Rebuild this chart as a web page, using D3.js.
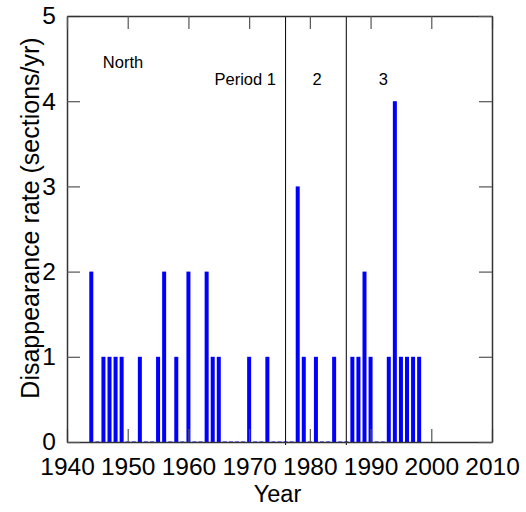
<!DOCTYPE html>
<html>
<head>
<meta charset="utf-8">
<script src="https://cdn.jsdelivr.net/npm/d3@7"></script>
<style>
  html, body { margin: 0; padding: 0; background: #fff; }
  text { font-family: "Liberation Sans", Arial, sans-serif; fill: #000; }
</style>
</head>
<body>
<svg id="chart" width="526" height="512"></svg>
<script>
// Yearly disappearance rate, North region
const years = d3.range(1944, 1999);
const nonZeroYears = [1944, 1946, 1947, 1948, 1949, 1952, 1955, 1956, 1958, 1960, 1963, 1964, 1965,
                      1970, 1973, 1978, 1979, 1981, 1984, 1987, 1988, 1989, 1990, 1993, 1994, 1995,
                      1996, 1997, 1998];
const nonZeroRates = [2, 1, 1, 1, 1, 1, 1, 2, 1, 2, 2, 1, 1,
                      1, 1, 3, 1, 1, 1, 1, 1, 2, 1, 1, 4, 1,
                      1, 1, 1];
const periodBreaks = [1976, 1986];
const xTicks = [1940, 1950, 1960, 1970, 1980, 1990, 2000, 2010];
const yTicks = [0, 1, 2, 3, 4, 5];
const annotations = [
  { text: "North", year: 1945.9, rate: 4.385, anchor: "start" },
  { text: "Period 1", year: 1964.3, rate: 4.19, anchor: "start" },
  { text: "2", year: 1981.2, rate: 4.19, anchor: "middle" },
  { text: "3", year: 1992.1, rate: 4.19, anchor: "middle" }
];

const rateByYear = new Map(nonZeroYears.map((y, i) => [y, nonZeroRates[i]]));
const series = years.map(y => ({ year: y, rate: rateByYear.get(y) || 0 }));

const svg = d3.select("#chart");
const margin = { left: 67, right: 34, top: 16, bottom: 70 };
const W = 526, H = 512;
const x = d3.scaleLinear().domain([1940, 2010]).range([margin.left, W - margin.right]);
const y = d3.scaleLinear().domain([0, 5]).range([H - margin.bottom, margin.top]);
const barW = 4;

// bars (zero years drawn as a faint baseline stub)
svg.append("g").selectAll("rect").data(series).join("rect")
  .attr("x", d => x(d.year) - barW / 2)
  .attr("width", barW)
  .attr("y", d => d.rate > 0 ? y(d.rate) : y(0) - 1)
  .attr("height", d => d.rate > 0 ? y(0) - y(d.rate) : 1)
  .attr("fill", d => d.rate > 0 ? "#0000ff" : "#7f7fff");

// period separators
svg.append("g").selectAll("line").data(periodBreaks).join("line")
  .attr("x1", d => x(d)).attr("x2", d => x(d))
  .attr("y1", y(5)).attr("y2", y(0) + 3)
  .attr("stroke", "#000").attr("stroke-width", 1);

// axes with inward ticks on all four sides
const tickLen = 13;
const axisB = d3.axisBottom(x).tickValues(xTicks).tickFormat(d3.format("d")).tickSizeInner(-tickLen).tickSizeOuter(0).tickPadding(16);
const axisL = d3.axisLeft(y).tickValues(yTicks).tickFormat(d3.format("d")).tickSizeInner(-tickLen).tickSizeOuter(0).tickPadding(11);
const axisT = d3.axisTop(x).tickValues(xTicks).tickFormat("").tickSizeInner(-tickLen).tickSizeOuter(0);
const axisR = d3.axisRight(y).tickValues(yTicks).tickFormat("").tickSizeInner(-tickLen).tickSizeOuter(0);

function style(g) {
  g.select(".domain").attr("stroke", "#333").attr("stroke-width", 1.5);
  g.selectAll(".tick line").attr("stroke", "#555").attr("stroke-width", 1.2);
  g.selectAll(".tick text").attr("font-size", 24.5).attr("font-family", "Liberation Sans, Arial, sans-serif").attr("fill", "#000");
}
svg.append("g").attr("transform", `translate(0,${y(0)})`).call(axisB).call(style);
svg.append("g").attr("transform", `translate(${x(1940)},0)`).call(axisL).call(style);
svg.append("g").attr("transform", `translate(0,${y(5)})`).call(axisT).call(style);
svg.append("g").attr("transform", `translate(${x(2010)},0)`).call(axisR).call(style);

// annotations
svg.append("g").selectAll("text").data(annotations).join("text")
  .attr("x", d => x(d.year)).attr("y", d => y(d.rate))
  .attr("text-anchor", d => d.anchor)
  .attr("font-size", 16.5)
  .text(d => d.text);

// axis titles
svg.append("text").attr("x", (x(1940) + x(2010)) / 2 - 2).attr("y", 502)
  .attr("text-anchor", "middle").attr("font-size", 23.5).text("Year");
svg.append("text")
  .attr("transform", `translate(39,218) rotate(-90)`)
  .attr("text-anchor", "middle").attr("font-size", 25).text("Disappearance rate (sections/yr)");
</script>
</body>
</html>
